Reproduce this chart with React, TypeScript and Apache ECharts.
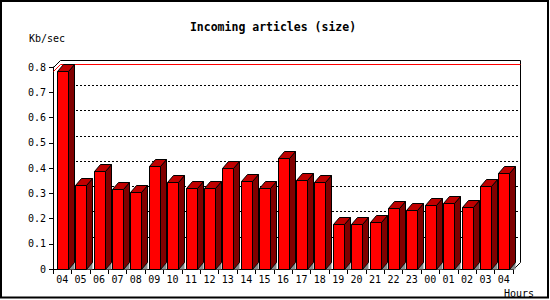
import React, { useEffect, useRef } from "react";
import * as echarts from "echarts";

const hours = ["04","05","06","07","08","09","10","11","12","13","14","15","16","17","18","19","20","21","22","23","00","01","02","03","04"];
const sizeKbps = [0.785,0.332,0.387,0.316,0.304,0.407,0.344,0.320,0.320,0.399,0.348,0.320,0.439,0.352,0.344,0.177,0.177,0.185,0.240,0.233,0.252,0.260,0.245,0.328,0.379];
const titleText = "Incoming articles (size)";
const yUnit = "Kb/sec";
const xUnit = "Hours";

const DX = 7;
const DY = 7;
const FONT = "'DejaVu Sans Mono', monospace";

export default function App() {
  const ref = useRef<HTMLDivElement>(null);
  useEffect(() => {
    const chart = echarts.init(ref.current!, null, { renderer: "svg" });
    const maxV = Math.max(...sizeKbps);
    const r = (v: number) => Math.round(v) + 0.5;
    chart.setOption({
      animation: false,
      backgroundColor: "#ffffff",
      grid: [
        { left: 53, right: 37, top: 67, bottom: 31 },
        { left: 53 + DX, right: 37 - DX, top: 67 - DY, bottom: 31 + DY },
      ],
      xAxis: [
        {
          gridIndex: 0,
          type: "category",
          data: hours,
          boundaryGap: true,
          axisLine: { show: true, lineStyle: { color: "#000", width: 1 } },
          axisTick: { show: true, interval: 0, length: 5, alignWithLabel: false, lineStyle: { color: "#000" } },
          axisLabel: { interval: 0, margin: 5, color: "#000", fontFamily: FONT, fontSize: 10 },
          splitLine: { show: false },
        },
        {
          gridIndex: 1,
          type: "category",
          data: hours,
          show: false,
        },
      ],
      yAxis: [
        {
          gridIndex: 0,
          type: "value",
          min: 0,
          max: 0.8,
          interval: 0.1,
          axisLine: { show: true, lineStyle: { color: "#000", width: 1 } },
          axisTick: { show: true, length: 4, lineStyle: { color: "#000" } },
          axisLabel: { margin: 7, color: "#000", fontFamily: FONT, fontSize: 10 },
          splitLine: { show: false },
        },
        {
          gridIndex: 1,
          type: "value",
          min: 0,
          max: 0.8,
          interval: 0.1,
          axisLine: { show: false },
          axisTick: { show: false },
          axisLabel: { show: false },
          splitLine: {
            show: true,
            showMinLine: false,
            showMaxLine: false,
            lineStyle: { color: "#000", width: 1, type: [2, 2] },
          },
        },
      ],
      graphic: [
        {
          type: "rect",
          shape: { x: 1, y: 1, width: 547, height: 296.5 },
          style: { fill: "none", stroke: "#000", lineWidth: 2 },
          z: 100,
        },
        {
          type: "text",
          x: 273,
          y: 27,
          style: {
            text: titleText,
            fontFamily: FONT,
            fontWeight: "bold",
            fontSize: 11.5,
            fill: "#000",
            textAlign: "center",
            textVerticalAlign: "middle",
          },
        },
        {
          type: "text",
          x: 29,
          y: 38,
          style: {
            text: yUnit,
            fontFamily: FONT,
            fontSize: 10,
            fill: "#000",
            textAlign: "left",
            textVerticalAlign: "middle",
          },
        },
        {
          type: "text",
          x: 504,
          y: 293,
          style: {
            text: xUnit,
            fontFamily: FONT,
            fontSize: 10,
            fill: "#000",
            textAlign: "left",
            textVerticalAlign: "middle",
          },
        },
      ],
      series: [
        {
          type: "custom",
          xAxisIndex: 0,
          yAxisIndex: 0,
          z: 1,
          silent: true,
          data: [[0, maxV]],
          encode: { x: 0, y: 1 },
          renderItem: (params: any, api: any) => {
            const cs = params.coordSys;
            const x0 = r(cs.x);
            const y0 = r(cs.y);
            const x1 = r(cs.x + cs.width);
            const y1 = r(cs.y + cs.height);
            const ym = r(api.coord([0, api.value(1)])[1]);
            return {
              type: "group",
              children: [
                {
                  type: "polyline",
                  shape: {
                    points: [
                      [x0, y0],
                      [x0 + DX, y0 - DY],
                      [x1 + DX, y0 - DY],
                      [x1 + DX, y1 - DY],
                      [x1, y1],
                    ],
                  },
                  style: { stroke: "#000", lineWidth: 1, fill: "none" },
                },
                {
                  type: "polyline",
                  shape: {
                    points: [
                      [x0, ym],
                      [x0 + DX, ym - DY],
                      [x1 + DX, ym - DY],
                    ],
                  },
                  style: { stroke: "#ff0000", lineWidth: 1, fill: "none" },
                },
              ],
            };
          },
        },
        {
          type: "custom",
          xAxisIndex: 0,
          yAxisIndex: 0,
          z: 3,
          silent: true,
          data: sizeKbps.map((v, i) => [i, v]),
          encode: { x: 0, y: 1 },
          renderItem: (params: any, api: any) => {
            const i = api.value(0);
            const v = api.value(1);
            const top = api.coord([i, v]);
            const base = api.coord([i, 0]);
            const cx = top[0];
            const xl = r(cx - 5.5);
            const xr = r(cx + 5.5);
            const yt = r(top[1]);
            const yb = r(base[1]);
            const dx = 6;
            const dy = 7;
            return {
              type: "group",
              children: [
                {
                  type: "polygon",
                  shape: { points: [[xr, yb], [xr + dx, yb - dy], [xr + dx, yb]] },
                  style: { fill: "#8c8c8c", stroke: "none" },
                },
                {
                  type: "polygon",
                  shape: { points: [[xr, yt], [xr + dx, yt - dy], [xr + dx, yb - dy], [xr, yb]] },
                  style: { fill: "#800000", stroke: "#000", lineWidth: 1 },
                },
                {
                  type: "polygon",
                  shape: { points: [[xl, yt], [xl + dx, yt - dy], [xr + dx, yt - dy], [xr, yt]] },
                  style: { fill: "#c00000", stroke: "#000", lineWidth: 1 },
                },
                {
                  type: "rect",
                  shape: { x: xl, y: yt, width: xr - xl, height: yb - yt },
                  style: { fill: "#ff0000", stroke: "#000", lineWidth: 1 },
                },
              ],
            };
          },
        },
      ],
    });
    return () => chart.dispose();
  }, []);
  return (
    <div
      ref={ref}
      style={{ position: "absolute", left: 0, top: 0, width: 550, height: 300 }}
    />
  );
}
